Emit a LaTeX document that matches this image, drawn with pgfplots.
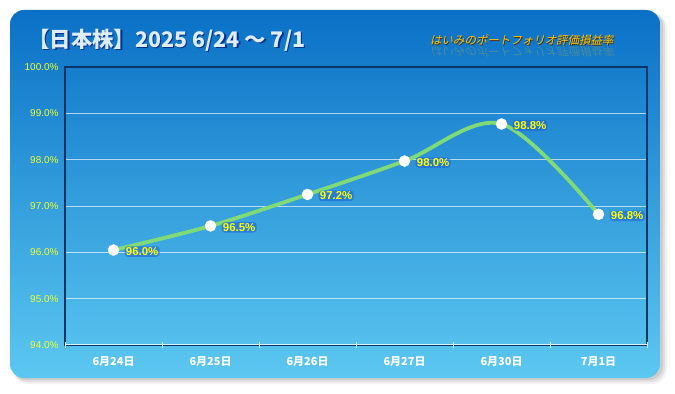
\documentclass[border=0pt]{standalone}
\usepackage{pgfplots}
\pgfplotsset{compat=1.18}
\usepackage{fontspec}
\setmainfont{Liberation Sans}
\newfontfamily\cjk{Noto Sans CJK JP}
\newfontfamily\cjkit{Noto Sans CJK JP}[FakeSlant=0.22]
\definecolor{cardtop}{RGB}{10,112,198}
\definecolor{cardbot}{RGB}{92,200,241}
\definecolor{frame}{RGB}{14,52,100}
\definecolor{linegreen}{RGB}{128,218,118}
\definecolor{titlecol}{RGB}{222,236,248}
\definecolor{subcol}{RGB}{255,196,0}
\definecolor{labyellow}{RGB}{255,255,0}
\definecolor{ticklab}{RGB}{240,255,40}
\definecolor{glow}{RGB}{30,96,215}
\begin{document}
\begin{tikzpicture}[x=1bp,y=1bp]
\useasboundingbox (0,0) rectangle (675,393);
% shadow
\fill[black,opacity=0.05,rounded corners=15bp] (13,9) rectangle (667,380);
\fill[black,opacity=0.07,rounded corners=14bp] (13,11) rectangle (665,380);
\fill[black,opacity=0.09,rounded corners=14bp] (12,13) rectangle (663,381);
% card
\shade[rounded corners=14bp, top color=cardtop, bottom color=cardbot] (10,15) rectangle (660,383);
% title
\node[anchor=west, text=black!60!blue, opacity=0.6, inner sep=0] at (29.5,351.5) {\cjk\bfseries\fontsize{21.5}{21.5}\selectfont 【日本株】2025 6/24 ～ 7/1};
\node[anchor=west, text=titlecol, inner sep=0] at (28,353) {\cjk\bfseries\fontsize{21.5}{21.5}\selectfont 【日本株】2025 6/24 ～ 7/1};
% subtitle
\node[anchor=west, text=subcol, opacity=0.22, inner sep=0, yscale=-1] at (430,341) {\cjkit\fontsize{11.5}{11.5}\selectfont はいみのポートフォリオ評価損益率};
\node[anchor=west, text=black!70!orange, inner sep=0] at (430.7,352.3) {\cjkit\fontsize{11.5}{11.5}\selectfont はいみのポートフォリオ評価損益率};
\node[anchor=west, text=subcol, inner sep=0] at (430,353) {\cjkit\fontsize{11.5}{11.5}\selectfont はいみのポートフォリオ評価損益率};
\begin{axis}[
  at={(65bp,48bp)}, anchor=south west,
  width=582bp, height=278bp, scale only axis,
  xmin=-0.5, xmax=5.5, ymin=94, ymax=100,
  ytick={94,95,...,100},
  xtick={0,...,5},
  xticklabels={6月24日,6月25日,6月26日,6月27日,6月30日,7月1日},
  extra x ticks={-0.5,0.5,1.5,2.5,3.5,4.5,5.5},
  extra x tick labels={},
  extra x tick style={major tick length=6bp, tick style={white!85!cyan, line width=0.8bp}, tick align=center, grid=none},
  major tick length=0pt,
  tick pos=left,
  ymajorgrids,
  major grid style={white, opacity=0.65, line width=0.6bp},
  axis line style={draw=frame, line width=1.3bp},
  yticklabel={\pgfmathprintnumber[fixed,fixed zerofill,precision=1]{\tick}\%},
  yticklabel style={font=\fontsize{10}{10}\selectfont, text=ticklab, /pgf/number format/assume math mode=true, xshift=-3bp},
  xticklabel style={font=\cjk\bfseries\fontsize{11}{11}\selectfont, text=white, yshift=-8bp},
  clip=false,
]
\draw[white!85!cyan, line width=1bp] (axis cs:-0.5,94.02) -- (axis cs:5.5,94.02);
\addplot[linegreen, line width=3.8bp, smooth, tension=0.55,
  mark=*, mark size=5.5bp, mark options={fill=white, draw=white, line width=0.4bp},
  point meta=explicit symbolic,
  nodes near coords,
  nodes near coords style={anchor=west, xshift=11bp, yshift=-1.5bp,
    font=\bfseries\fontsize{11.5}{11.5}\selectfont, text=labyellow,
    fill=glow, fill opacity=0.55, text opacity=1, rounded corners=3bp, inner sep=1.2bp}]
coordinates {
(0,96.05) [96.0\%]
(1,96.57) [96.5\%]
(2,97.25) [97.2\%]
(3,97.97) [98.0\%]
(4,98.77) [98.8\%]
(5,96.82) [96.8\%]
};
\end{axis}
\end{tikzpicture}
\end{document}
